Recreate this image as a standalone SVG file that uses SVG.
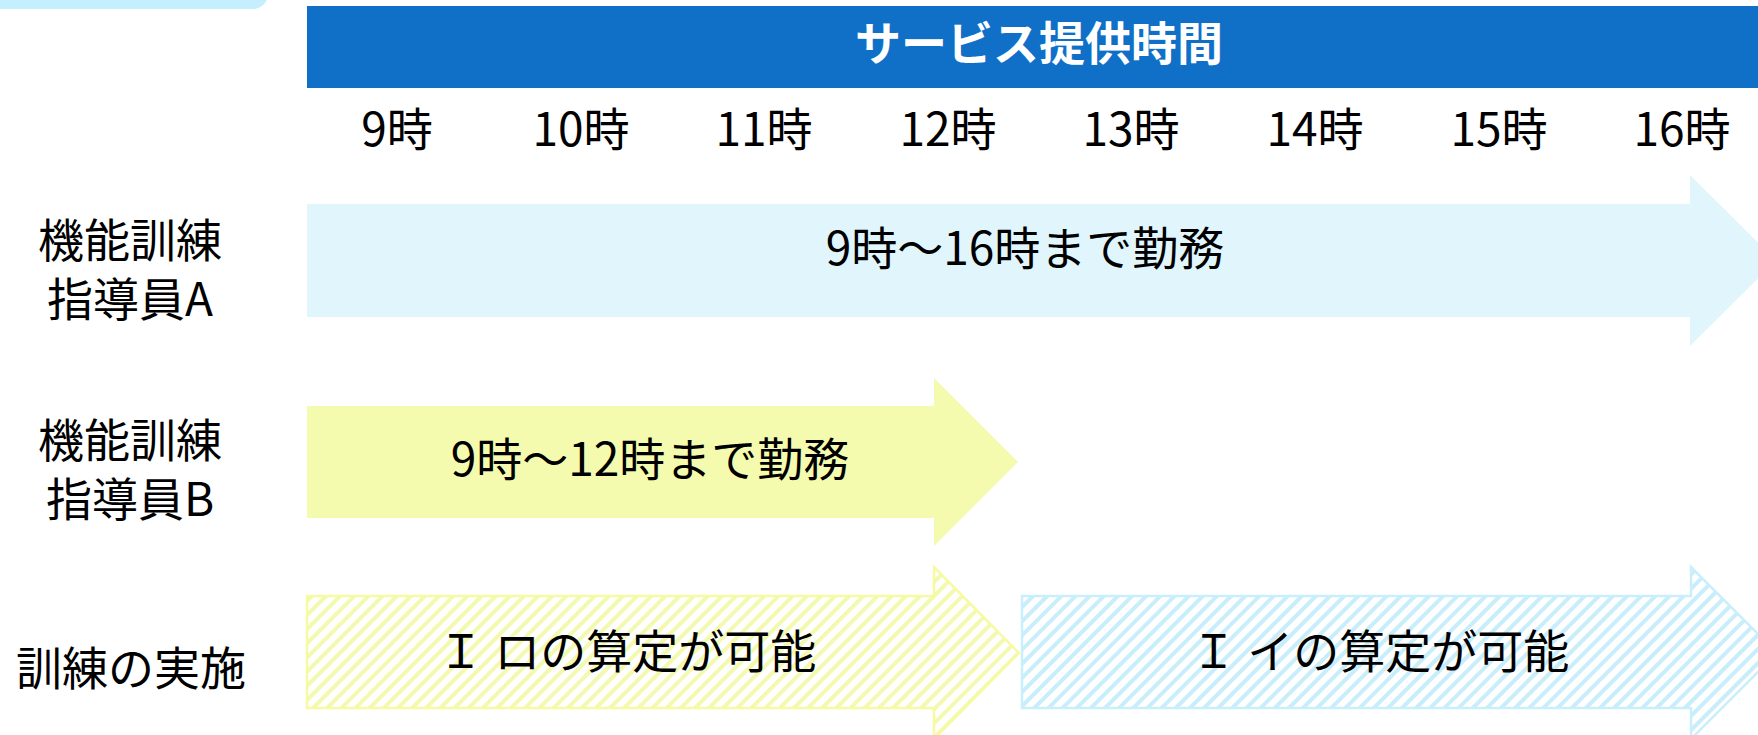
<svg xmlns="http://www.w3.org/2000/svg" width="1758" height="735" viewBox="0 0 1758 735">
  <style>
    .t { font-family: "Noto Sans CJK JP", "Noto Sans", sans-serif; font-size: 46px; fill: #000; }
    .c { text-anchor: middle; }
    .title { font-family: "Noto Sans CJK JP", "Noto Sans", sans-serif; font-size: 46px; font-weight: bold; fill: #fff; text-anchor: middle; }
  </style>
  <defs>
    <pattern id="hatchY" patternUnits="userSpaceOnUse" width="10" height="10" patternTransform="rotate(45)">
      <rect x="0" y="0" width="10" height="10" fill="#fff"/>
      <rect x="0" y="0" width="4" height="10" fill="#F3F9AE"/>
    </pattern>
    <pattern id="hatchB" patternUnits="userSpaceOnUse" width="10" height="10" patternTransform="rotate(45)">
      <rect x="0" y="0" width="10" height="10" fill="#fff"/>
      <rect x="0" y="0" width="4" height="10" fill="#C8EDFB"/>
    </pattern>
  </defs>
  <rect width="1758" height="735" fill="#fff"/>

  <g id="corner-tab">
    <path d="M-20,-20 H268 V-6 A15,15 0 0 1 253,9 H-20 Z" fill="#C5EEFE"/>
  </g>

  <g id="header">
    <rect x="307" y="6" width="1451" height="82" fill="#1070C8"/>
    <text class="title" x="1039" y="60">サービス提供時間</text>
  </g>

  <g id="time-axis">
    <text class="t c" x="397" y="146">9時</text>
    <text class="t c" x="581" y="146">10時</text>
    <text class="t c" x="764" y="146">11時</text>
    <text class="t c" x="948" y="146">12時</text>
    <text class="t c" x="1131" y="146">13時</text>
    <text class="t c" x="1315" y="146">14時</text>
    <text class="t c" x="1499" y="146">15時</text>
    <text class="t c" x="1682" y="146">16時</text>
  </g>

  <g id="label-a">
    <text class="t c"><tspan x="130" y="257">機能訓練</tspan><tspan x="130" y="316">指導員A</tspan></text>
  </g>
  <g id="label-b">
    <text class="t c"><tspan x="130" y="457">機能訓練</tspan><tspan x="130" y="516">指導員B</tspan></text>
  </g>
  <g id="label-training">
    <text class="t c" x="131" y="685">訓練の実施</text>
  </g>

  <g id="arrow-a">
    <polygon points="307,204 1690,204 1690,175 1776,260.5 1690,346 1690,317 307,317" fill="#E1F5FD"/>
    <text class="t c" x="1025" y="265">9時～16時まで勤務</text>
  </g>

  <g id="arrow-b">
    <polygon points="307,406 934,406 934,378 1018,462 934,546 934,518 307,518" fill="#F4FAAE"/>
    <text class="t c" x="650" y="476">9時～12時まで勤務</text>
  </g>

  <g id="arrow-ro">
    <polygon points="307,596 934,596 934,567 1019,653 934,739 934,708 307,708" fill="url(#hatchY)" stroke="#F7FAA0" stroke-width="2.5"/>
    <text class="t c" x="627" y="668">Ｉ ロの算定が可能</text>
  </g>

  <g id="arrow-i">
    <polygon points="1022,596 1691,596 1691,567 1777,653 1691,739 1691,708 1022,708" fill="url(#hatchB)" stroke="#C9EEFC" stroke-width="2.5"/>
    <text class="t c" x="1380" y="668">Ｉ イの算定が可能</text>
  </g>
</svg>
